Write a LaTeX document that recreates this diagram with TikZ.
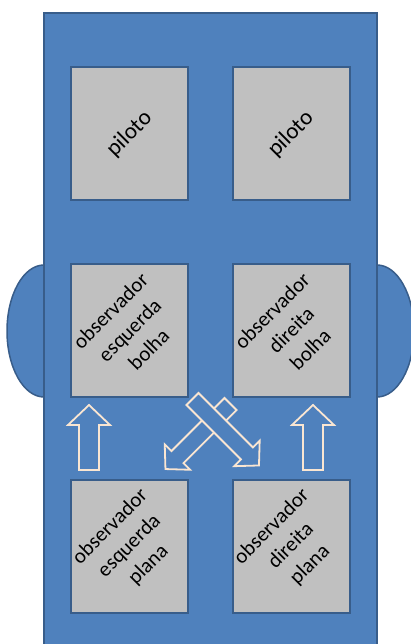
\documentclass[tikz,border=0pt]{standalone}
\usepackage{fontspec}
\setmainfont{Carlito}
\definecolor{bluefill}{HTML}{4F81BD}
\definecolor{blueline}{HTML}{385D8A}
\definecolor{grayfill}{HTML}{C0C0C0}
\definecolor{cream}{HTML}{FAE6D2}
\newcommand\myblockarrow[4]{%
  \draw[barrow] (0,-#2) -- (#1-#4,-#2) -- (#1-#4,-#3) -- (#1,0) -- (#1-#4,#3) -- (#1-#4,#2) -- (0,#2) -- cycle;}
\begin{document}
\begin{tikzpicture}[x=1pt,y=-1pt,
  box/.style={draw=blueline,line width=2pt,fill=grayfill,minimum width=117pt,minimum height=133pt,inner sep=0pt},
  lbl/.style={rotate=45,align=center,font=\fontsize{21}{27}\selectfont,inner sep=0pt,text=black},
  biglbl/.style={lbl,font=\fontsize{23}{28}\selectfont},
  barrow/.style={draw=cream,line width=1.8pt,fill=bluefill,line join=miter},
  hull/.style={draw=blueline,fill=bluefill,line width=1.5pt}]
\useasboundingbox (0,0) rectangle (411,644);
\clip (0,0) rectangle (411,644);
\fill[white] (0,0) rectangle (411,644);
% side bubbles
\draw[hull] (44,331) ellipse [x radius=37, y radius=66];
\draw[hull] (377,331) ellipse [x radius=37, y radius=66];
% fuselage
\draw[hull] (44,13) rectangle (377,660);
% seats
\node[box] (pl) at (129.5,134) {};
\node[box] (pr) at (291,134) {};
\node[box] (ol) at (129.5,330) {};
\node[box] (or) at (291,330) {};
\node[box] (bl) at (129.5,546) {};
\node[box] (br) at (291,546) {};
% labels
\node[biglbl] (plt) at (pl) {piloto};
\node[biglbl] (prt) at (pr) {piloto};
\node[lbl] (olt) at (ol) {observador\\esquerda\\bolha};
\node[lbl] (ort) at (or) {observador\\direita\\bolha};
\node[lbl] (blt) at (bl) {observador\\esquerda\\plana};
\node[lbl] (brt) at (br) {observador\\direita\\plana};
% arrows
\coordinate (ua1) at (89,470);
\coordinate (ua2) at (313,470);
\coordinate (da1) at (192.5,399);
\coordinate (da2) at (230.5,404);
\begin{scope}[shift={(ua1)},rotate=90]\myblockarrow{65}{10}{21}{20}\end{scope}
\begin{scope}[shift={(ua2)},rotate=90]\myblockarrow{65}{10}{21}{20}\end{scope}
\begin{scope}[shift={(da2)},rotate=-135]\myblockarrow{92}{8.5}{18}{17}\end{scope}
\begin{scope}[shift={(da1)},rotate=-45]\myblockarrow{94}{8.5}{18}{17}\end{scope}
\end{tikzpicture}
\end{document}
